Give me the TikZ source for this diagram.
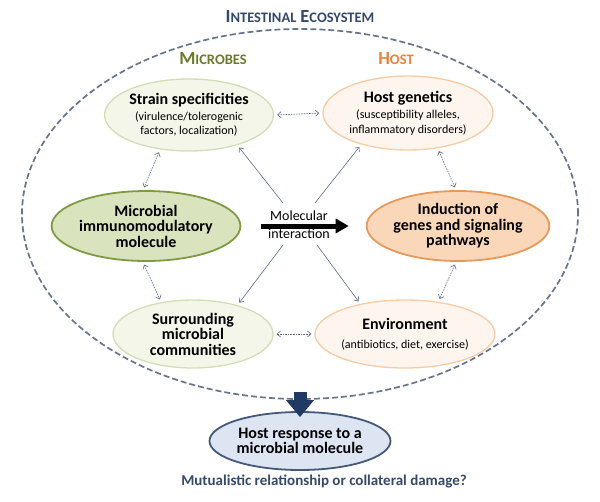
\documentclass[tikz,border=0pt]{standalone}
\usepackage{fontspec}
\setmainfont{Carlito}
\usetikzlibrary{shapes.geometric,arrows.meta}
\definecolor{titleblue}{HTML}{34496A}
\definecolor{ecoline}{HTML}{66758C}
\definecolor{microgreen}{HTML}{6B7B2C}
\definecolor{hostorange}{HTML}{E8833A}
\definecolor{lgfill}{HTML}{F3F6E9}
\definecolor{lgline}{HTML}{D3DDB6}
\definecolor{mgfill}{HTML}{D9E4BE}
\definecolor{mgline}{HTML}{7F9A45}
\definecolor{lofill}{HTML}{FEF5EE}
\definecolor{loline}{HTML}{F6CBA6}
\definecolor{mofill}{HTML}{FBD7BA}
\definecolor{moline}{HTML}{E59A5C}
\definecolor{bfill}{HTML}{DCE5F1}
\definecolor{bline}{HTML}{44597A}
\definecolor{arrgray}{HTML}{5A6A85}
\definecolor{navy}{HTML}{213A63}
\newcommand{\fakesc}[2]{{\fontsize{18.5}{18.5}\selectfont #1}{\fontsize{14.5}{14.5}\selectfont #2}}
\newcommand{\bt}[1]{{\fontsize{16}{16}\selectfont\bfseries #1}}
\begin{document}
\begin{tikzpicture}[x=1pt,y=-1pt,
  bub/.style={ellipse, inner sep=0pt, align=center, line width=1.3pt,
    font=\fontsize{12}{14.5}\selectfont},
  bigtext/.style={font=\fontsize{16}{15.5}\selectfont\bfseries},
  greenlight/.style={bub, fill=lgfill, draw=lgline},
  greenmid/.style={bub, fill=mgfill, draw=mgline, line width=1.8pt},
  orangelight/.style={bub, fill=lofill, draw=loline},
  orangemid/.style={bub, fill=mofill, draw=moline, line width=1.8pt},
  bluebub/.style={bub, fill=bfill, draw=bline, line width=1.8pt},
  dbl/.style={arrgray, line width=0.6pt, dash pattern=on 1.6pt off 1pt,
    {Straight Barb[length=3.5pt,width=6pt]}-{Straight Barb[length=3.5pt,width=6pt]},
    shorten <=3pt, shorten >=3pt},
  sgl/.style={arrgray, line width=0.6pt, -{Straight Barb[length=3.5pt,width=6pt]}, shorten >=3pt},
  heading/.style={font=\bfseries, inner sep=0pt}
]
\useasboundingbox (0,0) rectangle (600,501);

% ecosystem
\node[ellipse, draw=ecoline, line width=1.7pt, dash pattern=on 6pt off 3pt,
  minimum width=556pt, minimum height=370pt, inner sep=0pt] (eco) at (300,214) {};
\node[heading, text=titleblue] (title) at (300,17) {\fakesc{I}{NTESTINAL}\hspace{4pt}\fakesc{E}{COSYSTEM}};
\node[heading, text=microgreen] (microbes) at (213,59) {\fakesc{M}{ICROBES}};
\node[heading, text=hostorange] (host) at (396,59) {\fakesc{H}{OST}};

% bubbles
\node[greenlight, minimum width=168pt, minimum height=72pt] (strain) at (189,115)
  {\bt{Strain specificities}\\[1pt](virulence/tolerogenic\\factors, localization)};
\node[orangelight, minimum width=170pt, minimum height=74pt] (hostgen) at (408,113)
  {\bt{Host genetics}\\[2pt](susceptibility alleles,\\inflammatory disorders)};
\node[greenmid, bigtext, minimum width=182pt, minimum height=70pt] (micro) at (146,226)
  {Microbial\\immunomodulatory\\molecule};
\node[orangemid, bigtext, minimum width=182pt, minimum height=70pt] (induct) at (458,226)
  {Induction of\\genes and signaling\\pathways};
\node[greenlight, bigtext, minimum width=160pt, minimum height=68pt] (surr) at (193,334)
  {Surrounding\\microbial\\communities};
\node[orangelight, minimum width=162pt, minimum height=68pt] (env) at (405,334)
  {\bt{Environment}\\[4pt](antibiotics, diet, exercise)};
\node[bluebub, bigtext, minimum width=181pt, minimum height=58pt] (resp) at (300,441)
  {Host response to a\\microbial molecule};
\node[heading, text=titleblue, font=\fontsize{15}{15}\selectfont\bfseries] (question) at (324,481)
  {Mutualistic relationship or collateral damage?};

% double arrows
\draw[dbl] (strain.east) -- (hostgen.west);
\draw[dbl] (surr.east) -- (env.west);
\draw[dbl] (strain.230) -- (micro.95);
\draw[dbl] (micro.265) -- (surr.135);
\draw[dbl] (hostgen.310) -- (induct.93);
\draw[dbl] (induct.267) -- (env.44);

% molecular interaction
\node[inner sep=0pt, font=\fontsize{14}{14}\selectfont] (mol) at (299,216) {Molecular};
\node[inner sep=0pt, font=\fontsize{14}{14}\selectfont] (inter) at (299,234) {interaction};
\draw[black, line width=5pt, -{Triangle[length=13pt,width=14pt]},
  shorten <=20pt, shorten >=17pt] (micro.east) -- (induct.west);

\coordinate (tul) at (283,203);
\coordinate (tur) at (315,203);
\coordinate (tll) at (283,245);
\coordinate (tlr) at (317,245);
\draw[sgl] (tul) -- (strain.328);
\draw[sgl] (tur) -- (hostgen.214);
\draw[sgl] (tll) -- (surr.33);
\draw[sgl] (tlr) -- (env.146);

% down arrow
\draw[navy, line width=13pt, -{Triangle[length=17pt,width=27pt]}, shorten >=-6pt]
  ([yshift=8pt]eco.south) -- (resp.north);
\end{tikzpicture}
\end{document}
